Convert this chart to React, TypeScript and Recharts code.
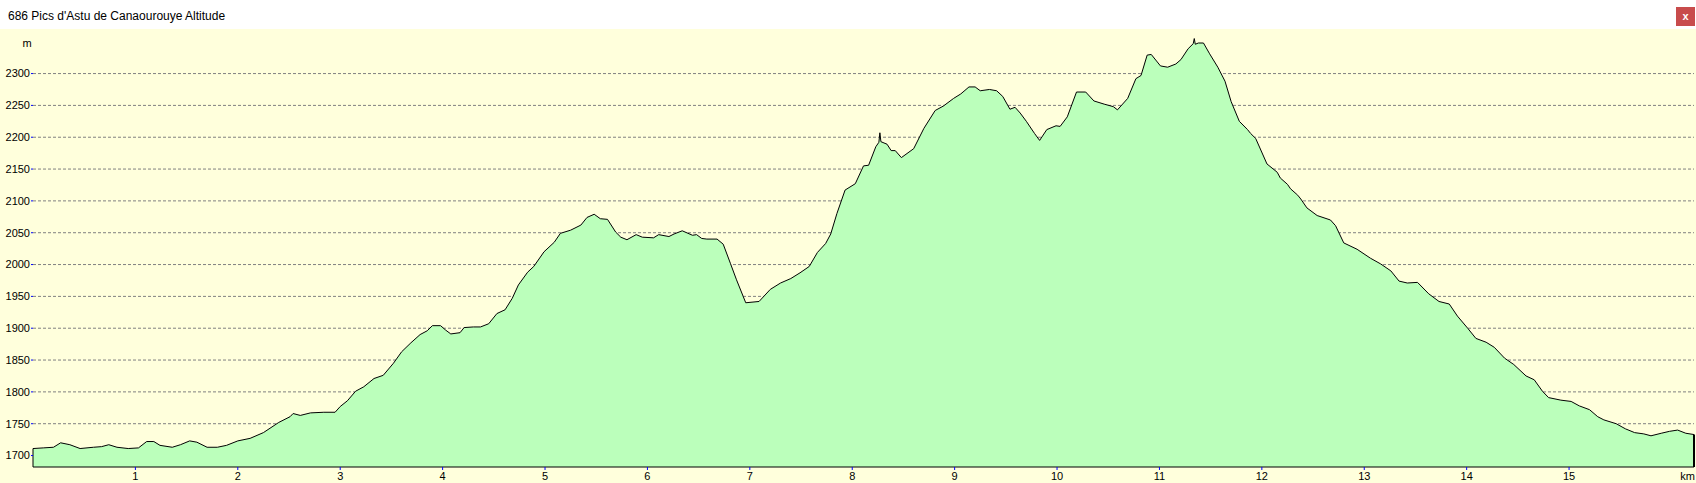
import { AreaChart, Area, XAxis, YAxis, CartesianGrid, ReferenceLine } from 'recharts';

const FONT = "'Liberation Sans', Arial, sans-serif";

const distanceKm = [
  0, 0.1, 0.2, 0.27, 0.36, 0.46, 0.59, 0.67, 0.74, 0.82,
  0.93, 1.03, 1.11, 1.18, 1.24, 1.36, 1.44, 1.53, 1.6, 1.7,
  1.8, 1.89, 2.0, 2.12, 2.25, 2.4, 2.51, 2.54, 2.61, 2.71,
  2.84, 2.95, 3.0, 3.07, 3.15, 3.23, 3.33, 3.42, 3.52, 3.6,
  3.69, 3.78, 3.85, 3.9, 3.98, 4.03, 4.08, 4.17, 4.21, 4.3,
  4.37, 4.45, 4.53, 4.61, 4.68, 4.74, 4.83, 4.89, 4.99, 5.09,
  5.15, 5.25, 5.35, 5.41, 5.48, 5.54, 5.61, 5.69, 5.74, 5.8,
  5.89, 5.95, 6.06, 6.11, 6.21, 6.26, 6.34, 6.44, 6.48, 6.53,
  6.58, 6.68, 6.74, 6.81, 6.87, 6.96, 7.09, 7.2, 7.3, 7.4,
  7.49, 7.58, 7.66, 7.74, 7.79, 7.85, 7.93, 8.03, 8.11, 8.16,
  8.23, 8.26, 8.27, 8.28, 8.34, 8.38, 8.42, 8.48, 8.6, 8.7,
  8.81, 8.89, 8.99, 9.06, 9.14, 9.2, 9.25, 9.34, 9.41, 9.47,
  9.54, 9.59, 9.64, 9.7, 9.78, 9.83, 9.9, 9.99, 10.03, 10.1,
  10.19, 10.28, 10.36, 10.46, 10.55, 10.59, 10.69, 10.77, 10.82, 10.88,
  10.92, 11.01, 11.08, 11.16, 11.21, 11.28, 11.33, 11.34, 11.35, 11.38,
  11.43, 11.49, 11.57, 11.64, 11.7, 11.78, 11.86, 11.89, 11.94, 12.05,
  12.15, 12.18, 12.25, 12.28, 12.35, 12.38, 12.44, 12.54, 12.67, 12.72,
  12.8, 12.93, 13.06, 13.16, 13.26, 13.34, 13.42, 13.52, 13.63, 13.73,
  13.83, 13.91, 14.01, 14.09, 14.19, 14.27, 14.37, 14.46, 14.58, 14.66,
  14.74, 14.8, 14.92, 15.02, 15.1, 15.2, 15.28, 15.34, 15.46, 15.55,
  15.64, 15.73, 15.8, 15.9, 15.98, 16.06, 16.14, 16.22,
];

const altitudeM = [
  1711, 1712, 1713, 1720, 1717, 1711, 1713, 1714, 1717, 1713,
  1711, 1712, 1722, 1722, 1716, 1713, 1717, 1723, 1721, 1713,
  1713, 1716, 1723, 1727, 1736, 1752, 1761, 1766, 1763, 1767,
  1768, 1768, 1777, 1786, 1801, 1808, 1821, 1826, 1845, 1863,
  1877, 1890, 1896, 1904, 1904, 1897, 1891, 1893, 1901, 1902,
  1902, 1907, 1923, 1929, 1947, 1968, 1988, 1997, 2020, 2035,
  2049, 2054, 2062, 2074, 2079, 2072, 2071, 2051, 2043, 2039,
  2047, 2043, 2042, 2047, 2044, 2048, 2053, 2046, 2047, 2041,
  2040, 2040, 2032, 2002, 1976, 1940, 1942, 1961, 1971, 1978,
  1987, 1997, 2019, 2033, 2048, 2080, 2117, 2127, 2155, 2156,
  2185, 2192, 2207, 2193, 2189, 2179, 2179, 2168, 2182, 2214,
  2242, 2249, 2261, 2268, 2279, 2279, 2273, 2275, 2273, 2264,
  2244, 2247, 2238, 2225, 2206, 2195, 2212, 2218, 2217, 2232,
  2271, 2271, 2257, 2252, 2248, 2243, 2261, 2292, 2297, 2329,
  2330, 2312, 2310, 2315, 2322, 2339, 2347, 2355, 2346, 2348,
  2348, 2331, 2310, 2288, 2256, 2225, 2212, 2206, 2198, 2158,
  2145, 2136, 2126, 2119, 2109, 2103, 2089, 2077, 2070, 2061,
  2034, 2024, 2010, 2001, 1990, 1974, 1971, 1972, 1954, 1942,
  1938, 1919, 1900, 1884, 1878, 1870, 1853, 1843, 1825, 1819,
  1801, 1791, 1787, 1785, 1778, 1772, 1761, 1756, 1750, 1742,
  1736, 1734, 1731, 1735, 1738, 1740, 1735, 1733,
];

const altitudeTicks = [1700, 1750, 1800, 1850, 1900, 1950, 2000, 2050, 2100, 2150, 2200, 2250, 2300];
const distanceTicks = [1, 2, 3, 4, 5, 6, 7, 8, 9, 10, 11, 12, 13, 14, 15];

const Y_MIN = 1682;
const Y_MAX = 2370;
const X_MAX = distanceKm[distanceKm.length - 1];

const profile = distanceKm.map((km, i) => ({ km, alt: altitudeM[i] }));

export default function App() {
  const first = profile[0];
  const last = profile[profile.length - 1];
  return (
    <div style={{ position: 'absolute', left: 0, top: 0, width: 1696, height: 483, background: '#ffffdc', fontFamily: FONT, overflow: 'hidden' }}>
      <div style={{ position: 'absolute', left: 0, top: 29 }}>
        <AreaChart width={1696} height={454} data={profile} margin={{ top: 0, right: 2, bottom: 0, left: 0 }}>
          <XAxis
            dataKey="km"
            type="number"
            domain={[0, X_MAX]}
            ticks={distanceTicks}
            interval={0}
            height={16}
            tickSize={3}
            tickMargin={2}
            axisLine={{ stroke: '#000' }}
            tickLine={{ stroke: '#0000ff' }}
            tick={{ fill: '#000', fontSize: 11, fontFamily: FONT }}
          />
          <YAxis
            type="number"
            domain={[Y_MIN, Y_MAX]}
            ticks={altitudeTicks}
            interval={0}
            width={33}
            tickSize={2}
            tickMargin={1}
            axisLine={false}
            tickLine={{ stroke: '#0000ff' }}
            tick={{ fill: '#000', fontSize: 11, fontFamily: FONT }}
          />
          <Area
            type="linear"
            dataKey="alt"
            stroke="#000"
            strokeWidth={1}
            fill="#bbffbb"
            fillOpacity={1}
            isAnimationActive={false}
            dot={false}
            activeDot={false}
          />
          <CartesianGrid vertical={false} horizontalValues={altitudeTicks} stroke="#808080" strokeDasharray="3 2" />
          <ReferenceLine segment={[{ x: first.km, y: Y_MIN }, { x: first.km, y: first.alt }]} stroke="#000" />
          <ReferenceLine segment={[{ x: last.km, y: Y_MIN }, { x: last.km, y: last.alt }]} stroke="#000" strokeWidth={2} />
        </AreaChart>
      </div>
      <svg width={1696} height={483} style={{ position: 'absolute', left: 0, top: 0, pointerEvents: 'none' }}>
        <rect x={0} y={0} width={1696} height={29} fill="#ffffff" />
        <text x={8} y={20} fontSize={12} fontFamily={FONT} fill="#000">686 Pics d'Astu de Canaourouye Altitude</text>
        <rect x={1676} y={7} width={19} height={19} fill="#c84c4c" />
        <text x={1685.5} y={20} fontSize={11} fontWeight="bold" fontFamily={FONT} fill="#fff" textAnchor="middle">x</text>
        <text x={27} y={47} fontSize={11} fontFamily={FONT} fill="#000" textAnchor="middle">m</text>
        <text x={1695} y={480} fontSize={11} fontFamily={FONT} fill="#000" textAnchor="end">km</text>
      </svg>
    </div>
  );
}
